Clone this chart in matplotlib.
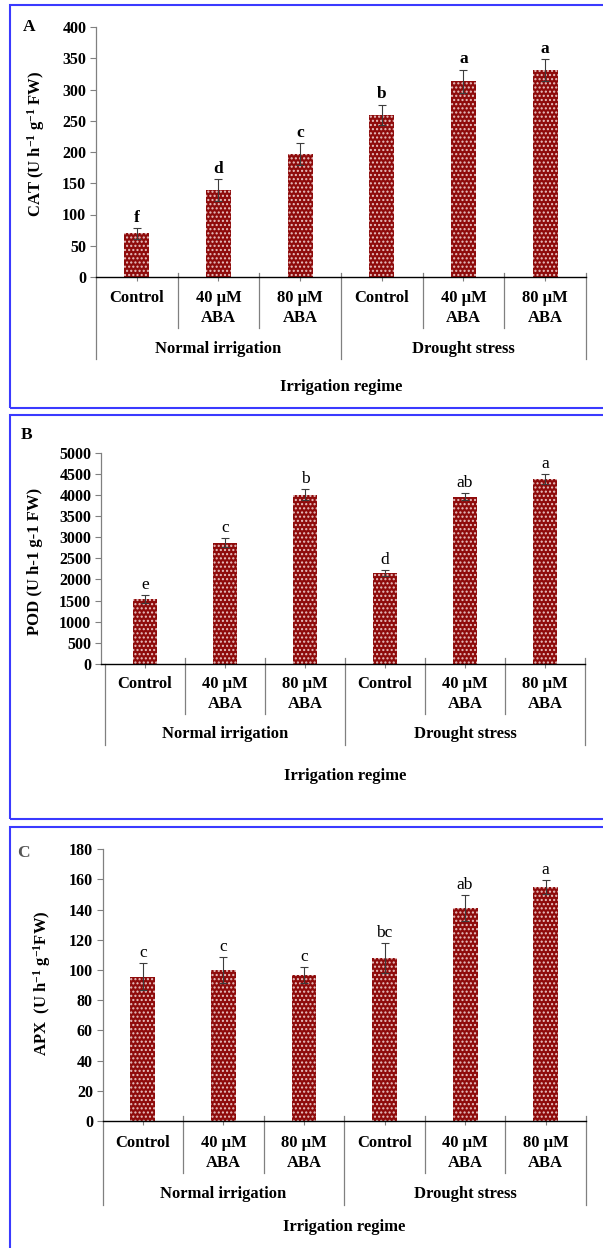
import matplotlib
matplotlib.use("Agg")
import matplotlib.pyplot as plt
from matplotlib.transforms import blended_transform_factory
from matplotlib.patches import Rectangle

# ---------------- data ----------------
categories = ["Control", "40 µM\nABA", "80 µM\nABA", "Control", "40 µM\nABA", "80 µM\nABA"]
groups = ["Normal irrigation", "Drought stress"]
xlabel = "Irrigation regime"

cat_vals = [70, 139, 197, 260, 313, 331]
cat_err = [9, 18, 17, 16, 19, 18]
cat_letters = ["f", "d", "c", "b", "a", "a"]

pod_vals = [1540, 2870, 4000, 2145, 3960, 4370]
pod_err = [85, 100, 130, 70, 80, 120]
pod_letters = ["e", "c", "b", "d", "ab", "a"]

apx_vals = [95.6, 100, 96.8, 108, 141, 155]
apx_err = [9, 8.5, 5.5, 10, 8.5, 4.5]
apx_letters = ["c", "c", "c", "bc", "ab", "a"]

# ---------------- style ----------------
W, H = 603, 1248
plt.rcParams["font.family"] = ["Liberation Serif", "DejaVu Serif"]
plt.rcParams["font.weight"] = "bold"
plt.rcParams["mathtext.fontset"] = "custom"
plt.rcParams["mathtext.rm"] = "Liberation Serif:bold"
plt.rcParams["mathtext.bf"] = "Liberation Serif:bold"
plt.rcParams["mathtext.it"] = "Liberation Serif:bold"
plt.rcParams["hatch.linewidth"] = 1.0

BAR = "#8e0b0b"
DOT = "#e9c3c3"
GREY = "#808080"
BLUE = "#3a3aff"

fig = plt.figure(figsize=(W / 100, H / 100), dpi=100)


def fy(ypix):
    return 1 - ypix / H


def fx(xpix):
    return xpix / W


# blue frames
for (y0, y1) in [(5, 408), (415, 819), (827, 1260)]:
    fig.patches.append(Rectangle((fx(9.6), fy(y1)), fx(620) - fx(9.6), fy(y0) - fy(y1),
                                 transform=fig.transFigure, fill=False,
                                 edgecolor=BLUE, lw=1.5, zorder=0))

panels = [
    dict(vals=cat_vals, err=cat_err, letters=cat_letters, bold_letters=True,
         left=96, right=586, top=27, zero=277, xmin=-0.5, ymax=400, ystep=50,
         ylabel=r"CAT (U h$^{-1}$ g$^{-1}$ FW)", ylab_x=36.5, ylab_y=143.5,
         tag="A", tag_xy=(29, 27), tag_color="black",
         sep_top=273, sep_short=328, sep_long=359,
         lab1=298, lab2=318, grp=349, xl=387),
    dict(vals=pod_vals, err=pod_err, letters=pod_letters, bold_letters=False,
         left=101, right=585, top=452.7, zero=664, xmin=-0.55, ymax=5000, ystep=500,
         ylabel="POD (U h-1 g-1 FW)", ylab_x=34.6, ylab_y=561,
         tag="B", tag_xy=(27, 435), tag_color="black",
         sep_top=658, sep_short=714, sep_long=745,
         lab1=684.5, lab2=704, grp=734, xl=776),
    dict(vals=apx_vals, err=apx_err, letters=apx_letters, bold_letters=False,
         left=102.7, right=585.8, top=849.3, zero=1121, xmin=-0.5, ymax=180, ystep=20,
         ylabel=r"APX  (U h$^{-1}$ g$^{-1}$FW)", ylab_x=42, ylab_y=983,
         tag="C", tag_xy=(23, 853), tag_color="#555555",
         sep_top=1116, sep_short=1173, sep_long=1205,
         lab1=1143, lab2=1163, grp=1194, xl=1227),
]

for p in panels:
    ax = fig.add_axes([fx(p["left"]), fy(p["zero"]),
                       fx(p["right"]) - fx(p["left"]), (p["zero"] - p["top"]) / H])
    x = list(range(len(p["vals"])))
    ax.bar(x, p["vals"], width=0.31, color=BAR, edgecolor=DOT, linewidth=0,
           hatch="....", zorder=2)
    ax.errorbar(x, p["vals"], yerr=p["err"], fmt="none", ecolor="#3c3c3c",
                elinewidth=0.8, capsize=3, capthick=0.8, zorder=3)
    for xi, v, e, lt in zip(x, p["vals"], p["err"], p["letters"]):
        ax.annotate(lt, (xi, v + e), xytext=(0, 1.5), textcoords="offset points",
                    ha="center", va="bottom", fontsize=12.5,
                    fontweight="bold" if p["bold_letters"] else "normal")
    ax.set_xlim(p["xmin"], 5.5)
    ax.set_ylim(0, p["ymax"])
    ax.set_yticks(range(0, p["ymax"] + 1, p["ystep"]))
    ax.set_xticks(x)
    ax.set_xticklabels([])
    ax.tick_params(axis="y", direction="out", length=4, width=0.8, color=GREY,
                   labelsize=11.5, pad=3)
    ax.tick_params(axis="x", direction="out", length=3, width=0.8, color=GREY)
    for lab in ax.get_yticklabels():
        lab.set_fontweight("bold")
    ax.spines["top"].set_visible(False)
    ax.spines["right"].set_visible(False)
    ax.spines["left"].set_color(GREY)
    ax.spines["left"].set_linewidth(0.9)
    ax.spines["bottom"].set_color("black")
    ax.spines["bottom"].set_linewidth(1.0)

    tr = blended_transform_factory(ax.transData, fig.transFigure)
    # separators
    for b in [0.5, 1.5, 3.5, 4.5]:
        ax.plot([b, b], [fy(p["sep_top"]), fy(p["sep_short"])], transform=tr,
                color=GREY, lw=0.9, clip_on=False)
    for b in [-0.5, 2.5, 5.5]:
        top = p["zero"] if b == -0.5 else p["sep_top"]
        ax.plot([b, b], [fy(top), fy(p["sep_long"])], transform=tr,
                color=GREY, lw=0.9, clip_on=False)
    # category labels
    for xi, c in zip(x, categories):
        lines = c.split("\n")
        ax.text(xi, fy(p["lab1"]), lines[0], transform=tr, ha="center", va="center",
                fontsize=12, fontweight="bold")
        if len(lines) > 1:
            ax.text(xi, fy(p["lab2"]), lines[1], transform=tr, ha="center", va="center",
                    fontsize=12, fontweight="bold")
    for gi, g in enumerate(groups):
        ax.text(1 + 3 * gi, fy(p["grp"]), g, transform=tr, ha="center", va="center",
                fontsize=12, fontweight="bold")
    ax.text(2.5, fy(p["xl"]), xlabel, transform=tr, ha="center", va="center",
            fontsize=12, fontweight="bold")
    fig.text(fx(p["ylab_x"]), fy(p["ylab_y"]), p["ylabel"], rotation=90,
             ha="center", va="center", fontsize=12, fontweight="bold")
    fig.text(fx(p["tag_xy"][0]), fy(p["tag_xy"][1]), p["tag"], ha="center", va="center",
             fontsize=12.5, fontweight="bold", color=p["tag_color"])

fig.savefig("out.png", dpi=100)
